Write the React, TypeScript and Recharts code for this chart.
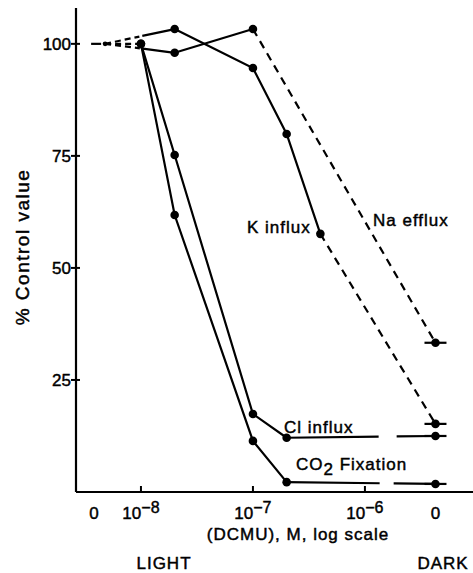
import { Line, LineChart, XAxis, YAxis } from "recharts";

// x is log10 of the DCMU concentration (M); the two "0" columns sit at fixed log positions
const CONTROL_X = -8.32; // no DCMU, light
const DARK_X = -5.37; // no DCMU, dark
const LOG_2E8 = Math.log10(2e-8);
const LOG_2E7 = Math.log10(2e-7);
const LOG_4E7 = Math.log10(4e-7);

const kInfluxX = [CONTROL_X, LOG_2E8, -7, LOG_2E7, LOG_4E7, DARK_X];
const kInfluxY = [100, 103.3, 94.6, 79.9, 57.6, 15.2];

const naEffluxX = [CONTROL_X, LOG_2E8, -7, DARK_X];
const naEffluxY = [100, 98, 103.3, 33.3];

const clInfluxX = [CONTROL_X, -8, LOG_2E8, -7, LOG_2E7, DARK_X];
const clInfluxY = [100, 100, 75.2, 17.4, 12.1, 12.5];

const co2X = [CONTROL_X, -8, LOG_2E8, -7, LOG_2E7, DARK_X];
const co2Y = [100, 100, 61.8, 11.4, 2.2, 1.8];

const xTicks = [-8.42, -8, -7, -6, DARK_X];
const xTickLabels: Record<string, string> = {
  "-8.42": "0",
  "-8": "10|−8",
  "-7": "10|−7",
  "-6": "10|−6",
  [String(DARK_X)]: "0",
};
const yTicks = [25, 50, 75, 100];

const FONT = "'Liberation Sans', Arial, sans-serif";
// old print looks heavier than Liberation regular, thicken a bit
const INK = { fill: "#000", stroke: "#000", strokeWidth: 0.45 };

function seg(xs: number[], ys: number[], from: number, to: number) {
  const out = [];
  for (let i = from; i <= to; i++) out.push({ x: xs[i], v: ys[i] });
  return out;
}

const fullDot = (props: any) => (
  <circle key={`d${props.index}`} cx={props.cx} cy={props.cy} r={4.3} fill="#000" />
);

const controlDot = (props: any) =>
  props.index === 0 ? (
    <g key="c0">
      <line x1={props.cx - 14} x2={props.cx - 4} y1={props.cy} y2={props.cy} stroke="#000" strokeWidth={2.2} />
      <circle cx={props.cx} cy={props.cy} r={2.4} fill="#000" />
    </g>
  ) : (
    <g key={`c${props.index}`} />
  );

const darkDot = (props: any) =>
  props.index === 1 ? (
    <g key="dk">
      <line x1={props.cx - 11} x2={props.cx + 11} y1={props.cy} y2={props.cy} stroke="#000" strokeWidth={2.2} />
      <circle cx={props.cx} cy={props.cy} r={4.3} fill="#000" />
    </g>
  ) : (
    <g key={`dk${props.index}`} />
  );

function XTick({ x, y, payload }: any) {
  const raw = xTickLabels[String(payload.value)] ?? "";
  const [base, sup] = raw.split("|");
  const isLog = sup !== undefined;
  return (
    <g>
      {isLog && <line x1={x} x2={x} y1={y - 6} y2={y} stroke="#000" strokeWidth={2} />}
      <text x={x} y={y + 27} textAnchor="middle" fontFamily={FONT} fontSize={17} {...INK}>
        <tspan>{base}</tspan>
        {isLog && (
          <tspan dy={-6} fontSize={16}>
            {sup}
          </tspan>
        )}
      </text>
    </g>
  );
}

function YTick({ x, y, payload }: any) {
  return (
    <g>
      <line x1={x - 5} x2={x + 4} y1={y} y2={y} stroke="#000" strokeWidth={2} />
      <text x={x - 5} y={y + 6.5} textAnchor="end" fontFamily={FONT} fontSize={17} {...INK}>
        {payload.value}
      </text>
    </g>
  );
}

function Annotations() {
  const t = { fontFamily: FONT, fontSize: 17, letterSpacing: 1, ...INK };
  return (
    <g>
      <text x={298} y={540} textAnchor="middle" {...t}>
        (DCMU), M, log  scale
      </text>
      <text x={164} y={569} textAnchor="middle" {...t}>
        LIGHT
      </text>
      <text x={443} y={569} textAnchor="middle" {...t}>
        DARK
      </text>
      <text x={247} y={233} {...t}>
        K influx
      </text>
      <text x={373} y={226} {...t}>
        Na efflux
      </text>
      <text x={284} y={433} {...t}>
        Cl influx
      </text>
      <text x={296} y={470} {...t}>
        CO<tspan dy={5}>2</tspan>
        <tspan dy={-5}> Fixation</tspan>
      </text>
      <text
        x={0}
        y={0}
        transform="translate(29 247) rotate(-90)"
        textAnchor="middle"
        fontFamily={FONT}
        fontSize={19}
        letterSpacing={1.5}
        {...INK}
      >
        % Control value
      </text>
    </g>
  );
}

const solid = { stroke: "#000", strokeWidth: 2.2, isAnimationActive: false, activeDot: false } as const;

export default function App() {
  return (
    <div style={{ position: "absolute", left: 0, top: 0, background: "#fff" }}>
      <LineChart width={473} height={573} margin={{ top: 8, right: 0, bottom: 0, left: 0 }}>
        <XAxis
          dataKey="x"
          type="number"
          domain={[-8.58, -5.035]}
          allowDataOverflow
          ticks={xTicks}
          tickSize={0}
          tickMargin={0}
          height={81}
          interval={0}
          tick={<XTick />}
          axisLine={{ stroke: "#000", strokeWidth: 2.2 }}
          label={<Annotations />}
        />
        <YAxis
          type="number"
          domain={[0, 108]}
          allowDataOverflow
          ticks={yTicks}
          tickSize={0}
          tickMargin={0}
          width={76}
          interval={0}
          tick={<YTick />}
          axisLine={{ stroke: "#000", strokeWidth: 2.2 }}
        />

        {/* light control to first DCMU points (break of the log axis) */}
        <Line data={seg(kInfluxX, kInfluxY, 0, 1)} dataKey="v" {...solid} strokeDasharray="6 4 6 4 6 4 5 3 300" dot={controlDot} />
        <Line data={seg(naEffluxX, naEffluxY, 0, 1)} dataKey="v" {...solid} strokeDasharray="6 4 6 4 6 4 5 3 300" dot={false} />
        <Line data={seg(clInfluxX, clInfluxY, 0, 1)} dataKey="v" {...solid} strokeDasharray="6 4" dot={false} />

        {/* K influx */}
        <Line data={seg(kInfluxX, kInfluxY, 1, 4)} dataKey="v" {...solid} dot={fullDot} />
        <Line data={seg(kInfluxX, kInfluxY, 4, 5)} dataKey="v" {...solid} strokeDasharray="8 6" dot={darkDot} />

        {/* Na efflux */}
        <Line data={seg(naEffluxX, naEffluxY, 1, 2)} dataKey="v" {...solid} dot={fullDot} />
        <Line data={seg(naEffluxX, naEffluxY, 2, 3)} dataKey="v" {...solid} strokeDasharray="8 6" dot={darkDot} />

        {/* Cl influx */}
        <Line data={seg(clInfluxX, clInfluxY, 1, 4)} dataKey="v" {...solid} dot={fullDot} />
        <Line data={seg(clInfluxX, clInfluxY, 4, 5)} dataKey="v" {...solid} strokeDasharray="92 18 300" dot={darkDot} />

        {/* CO2 fixation */}
        <Line data={seg(co2X, co2Y, 1, 4)} dataKey="v" {...solid} dot={fullDot} />
        <Line data={seg(co2X, co2Y, 4, 5)} dataKey="v" {...solid} strokeDasharray="93 14 300" dot={darkDot} />
      </LineChart>
    </div>
  );
}
